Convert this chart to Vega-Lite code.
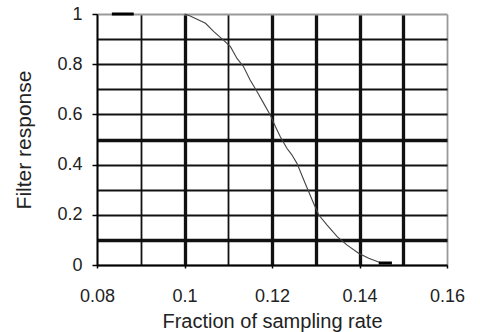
{
  "$schema": "https://vega.github.io/schema/vega-lite/v6.json",
  "width": 350,
  "height": 251,
  "autosize": {"type": "none"},
  "padding": {"left": 97, "top": 14, "right": 33, "bottom": 67},
  "background": "white",
  "config": {
    "view": {"stroke": null},
    "font": "Liberation Sans",
    "axis": {
      "labelFont": "Liberation Sans",
      "titleFont": "Liberation Sans",
      "labelFontSize": 18,
      "titleFontSize": 20,
      "titleFontWeight": "normal",
      "labelColor": "#222",
      "titleColor": "#222",
      "domainColor": "#000",
      "domainWidth": 1.5,
      "tickColor": "#000",
      "tickWidth": 1.5,
      "gridColor": "#111",
      "gridOpacity": 1,
      "labelFlush": false,
      "labelOverlap": false
    }
  },
  "datasets": {
    "curve": [
      {"f": 0.1000, "r": 1.000},
      {"f": 0.1013, "r": 0.992},
      {"f": 0.1048, "r": 0.963},
      {"f": 0.1067, "r": 0.930},
      {"f": 0.1089, "r": 0.896},
      {"f": 0.1105, "r": 0.870},
      {"f": 0.1120, "r": 0.823},
      {"f": 0.1135, "r": 0.790},
      {"f": 0.1150, "r": 0.737},
      {"f": 0.1166, "r": 0.690},
      {"f": 0.1181, "r": 0.644},
      {"f": 0.1196, "r": 0.598},
      {"f": 0.1208, "r": 0.551},
      {"f": 0.1219, "r": 0.511},
      {"f": 0.1234, "r": 0.465},
      {"f": 0.1245, "r": 0.440},
      {"f": 0.1257, "r": 0.405},
      {"f": 0.1276, "r": 0.325},
      {"f": 0.1295, "r": 0.246},
      {"f": 0.1307, "r": 0.199},
      {"f": 0.1326, "r": 0.159},
      {"f": 0.1349, "r": 0.113},
      {"f": 0.1371, "r": 0.080},
      {"f": 0.1398, "r": 0.047},
      {"f": 0.1421, "r": 0.027},
      {"f": 0.1448, "r": 0.009},
      {"f": 0.1474, "r": 0.008}
    ],
    "segments": [
      {"f": 0.0834, "f2": 0.0884, "r": 1.0},
      {"f": 0.1444, "f2": 0.1474, "r": 0.008}
    ]
  },
  "encoding": {
    "x": {
      "field": "f",
      "type": "quantitative",
      "scale": {"domain": [0.08, 0.16], "nice": false, "zero": false},
      "title": "Fraction of  sampling rate",
      "axis": {
        "values": [0.08, 0.09, 0.1, 0.11, 0.12, 0.13, 0.14, 0.15, 0.16],
        "labelExpr": "round(datum.value*100) % 2 == 0 ? format(datum.value, '~g') : ''",
        "grid": true,
        "gridWidth": {"condition": {"test": "indexof([10,12,13,14,15], round(datum.value*100)) >= 0", "value": 3.3}, "value": 1.8},
        "gridColor": {"condition": {"test": "round(datum.value*100) == 16", "value": "#999"}, "value": "#111"},
        "tickSize": 3,
        "tickOpacity": {"condition": {"test": "round(datum.value*100) % 2 != 0", "value": 0}, "value": 1},
        "labelPadding": 19,
        "titlePadding": 6
      }
    },
    "y": {
      "field": "r",
      "type": "quantitative",
      "scale": {"domain": [0, 1], "nice": false},
      "title": "Filter response",
      "axis": {
        "values": [0, 0.1, 0.2, 0.3, 0.4, 0.5, 0.6, 0.7, 0.8, 0.9, 1],
        "labelExpr": "round(datum.value*10) % 2 == 0 ? format(datum.value, '~g') : ''",
        "grid": true,
        "gridWidth": {"condition": {"test": "indexof([1,5], round(datum.value*10)) >= 0", "value": 3.5}, "value": 1.8},
        "gridColor": {"condition": {"test": "round(datum.value*10) == 10", "value": "#999"}, "value": "#111"},
        "tickSize": 5,
        "tickOpacity": {"condition": {"test": "round(datum.value*10) % 2 != 0", "value": 0}, "value": 1},
        "labelPadding": 10,
        "labelBaseline": "middle",
        "titleFontSize": 21,
        "titlePadding": 22
      }
    }
  },
  "layer": [
    {
      "data": {"name": "curve"},
      "mark": {"type": "line", "stroke": "#444", "strokeWidth": 1.1, "clip": false}
    },
    {
      "data": {"name": "segments"},
      "mark": {"type": "rule", "stroke": "#000", "strokeWidth": 3},
      "encoding": {
        "x2": {"field": "f2"}
      }
    }
  ]
}
